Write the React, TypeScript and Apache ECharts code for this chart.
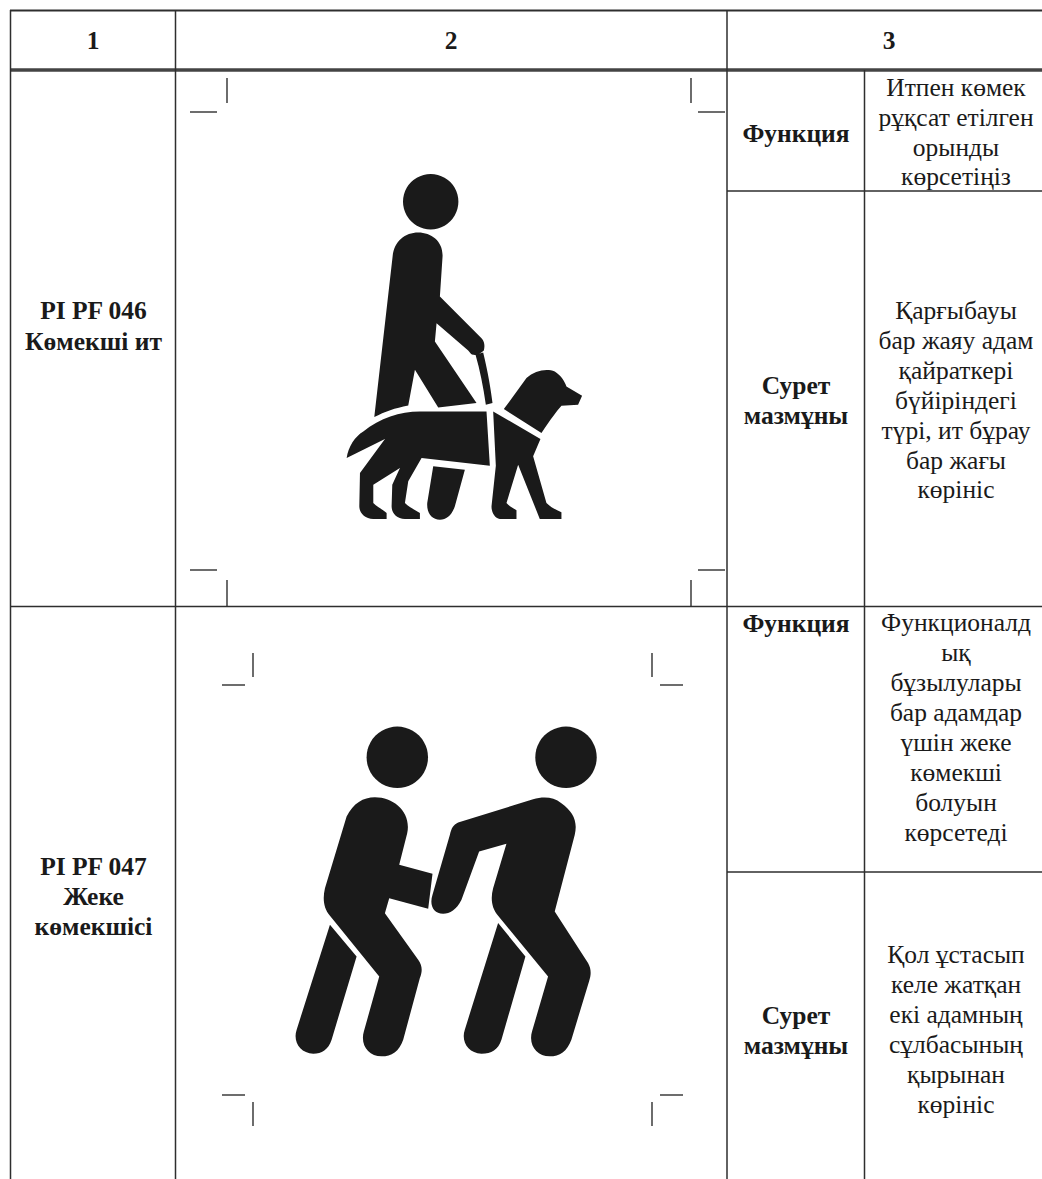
import React, { useEffect, useRef } from "react";
import * as echarts from "echarts";

const headerLabels = ["1", "2", "3"];
const codeLines1 = ["PI PF 046", "Көмекші ит"];
const codeLines2 = ["PI PF 047", "Жеке", "көмекшісі"];
const funcLabel = "Функция";
const imageLabel = ["Сурет", "мазмұны"];
const func1 = ["Итпен көмек", "рұқсат етілген", "орынды", "көрсетіңіз"];
const desc1 = ["Қарғыбауы", "бар жаяу адам", "қайраткері", "бүйіріндегі", "түрі, ит бұрау", "бар жағы", "көрініс"];
const func2 = ["Функционалд", "ық", "бұзылулары", "бар адамдар", "үшін жеке", "көмекші", "болуын", "көрсетеді"];
const desc2 = ["Қол ұстасып", "келе жатқан", "екі адамның", "сұлбасының", "қырынан", "көрініс"];

const dogPath =
  "M133,772 L188,290 C192,245 225,218 265,218 C305,218 340,245 338,290 L330,410 L455,535 C465,545 465,560 462,572 C450,582 440,587 430,585 C425,585 420,578 415,572 L320,490 L315,545 L440,730 L325,743 L255,630 L235,737 C195,745 165,755 133,772 Z " +
  "M437,585 L460,578 C475,640 483,690 488,730 L468,735 C460,680 450,630 437,585 Z " +
  "M50,895 C55,860 75,830 100,815 C150,775 210,755 270,755 L470,755 L480,918 L275,895 L235,965 L225,1030 C240,1045 255,1050 270,1060 L270,1078 L225,1078 C200,1078 185,1060 185,1040 L187,975 L210,925 L130,975 L130,1030 C145,1045 160,1050 170,1060 L170,1078 L130,1078 C105,1078 88,1060 88,1040 L90,940 L165,838 Z " +
  "M310,920 L405,930 L375,1040 C365,1068 350,1080 330,1080 C305,1080 290,1060 292,1030 Z " +
  "M490,755 L632,838 L610,890 L650,1030 C665,1045 680,1050 695,1058 L695,1078 L630,1078 L565,915 L530,1030 C540,1042 550,1045 560,1052 L560,1078 L510,1078 C495,1075 485,1060 485,1040 L498,918 Z " +
  "M522,748 L590,655 C615,632 650,625 675,635 C695,648 705,665 710,680 L757,708 L745,735 L695,738 C680,755 665,775 635,820 Z";

const helperPath =
  "M200,320 C220,280 250,262 285,262 C345,262 395,310 382,370 L358,465 L458,492 L445,597 L328,565 L315,610 L415,750 C428,768 428,785 420,805 L370,990 C358,1025 335,1040 305,1040 C265,1040 240,1005 252,965 L298,800 L150,618 C130,595 128,565 135,535 Z " +
  "M150,645 L230,740 L155,990 C145,1020 125,1032 100,1032 C60,1032 38,995 50,960 Z " +
  "M535,338 L760,268 C790,260 820,260 845,280 C880,305 895,335 885,375 L825,605 L925,760 C935,778 935,795 928,815 L875,990 C862,1025 840,1040 810,1040 C770,1040 745,1005 757,965 L805,800 L655,618 C635,595 632,565 640,535 L680,402 L598,425 L545,570 C530,600 510,612 490,612 C460,612 448,585 458,555 L510,375 C515,355 520,345 535,338 Z " +
  "M655,640 L737,740 L665,990 C655,1020 635,1032 605,1032 C565,1032 543,995 555,960 Z";

echarts.graphic.registerShape("dogIcon", echarts.graphic.extendPath(dogPath, {}));
echarts.graphic.registerShape("helperIcon", echarts.graphic.extendPath(helperPath, {}));

const INK = "#1a1a1a";
const LINE = "#2e2e2e";

function lines(xs: string[], x: number, ys: number[], bold: boolean) {
  return xs.map((t, i) => ({
    type: "text",
    x,
    y: ys[i],
    silent: true,
    style: {
      text: t,
      fill: INK,
      textAlign: "center",
      textVerticalAlign: "middle",
      font: `${bold ? "bold " : ""}25.5px "Liberation Serif"`,
    },
  }));
}

function seg(x1: number, y1: number, x2: number, y2: number, w = 1.5, c = LINE) {
  return {
    type: "line",
    silent: true,
    shape: { x1, y1, x2, y2 },
    style: { stroke: c, lineWidth: w },
  };
}

function crop(
  left: number, right: number,
  hTop: number, hBottom: number,
  vTop: number[], vBottom: number[],
  hl: number, gapL: number, gapR: number,
) {
  const w = 1.4;
  return [
    seg(left - gapL - hl, hTop, left - gapL, hTop, w),
    seg(right + gapR, hTop, right + gapR + hl, hTop, w),
    seg(left - gapL - hl, hBottom, left - gapL, hBottom, w),
    seg(right + gapR, hBottom, right + gapR + hl, hBottom, w),
    seg(left, vTop[0], left, vTop[1], w),
    seg(right, vTop[0], right, vTop[1], w),
    seg(left, vBottom[0], left, vBottom[1], w),
    seg(right, vBottom[0], right, vBottom[1], w),
  ];
}

export default function App() {
  const ref = useRef<HTMLDivElement>(null);
  useEffect(() => {
    document.body.style.margin = "0";
    document.body.style.background = "#ffffff";
    const chart = echarts.init(ref.current!, undefined, { renderer: "svg" });
    const elements: any[] = [
      seg(10, 10.5, 1042, 10.5, 2),
      seg(10, 70, 1042, 70, 3.5, "#444444"),
      seg(10, 606.5, 1042, 606.5, 1.5),
      seg(727, 191, 1042, 191, 1.5),
      seg(727, 872, 1042, 872, 1.5),
      seg(10.5, 10, 10.5, 1179, 1.5),
      seg(175.5, 10, 175.5, 1179, 1.5),
      seg(727, 10, 727, 1179, 1.5),
      seg(864.5, 70, 864.5, 1179, 1.5),
      ...crop(227, 691, 112, 570, [78, 103], [580, 606], 27, 10, 7),
      ...crop(253, 652, 685, 1095, [653, 677], [1102, 1126], 23, 8, 8),
      { type: "circle", silent: true, shape: { cx: 430.7, cy: 201.7, r: 27.7 }, style: { fill: INK } },
      { type: "dogIcon", silent: true, x: 330, y: 160, scaleX: 1 / 3, scaleY: 1 / 3, style: { fill: INK } },
      { type: "circle", silent: true, shape: { cx: 397.3, cy: 757.3, r: 30.7 }, style: { fill: INK } },
      { type: "circle", silent: true, shape: { cx: 566, cy: 757.3, r: 30.7 }, style: { fill: INK } },
      { type: "helperIcon", silent: true, x: 280, y: 710, scaleX: 1 / 3, scaleY: 1 / 3, style: { fill: INK } },
      ...lines([headerLabels[0]], 93, [40], true),
      ...lines([headerLabels[1]], 451, [40], true),
      ...lines([headerLabels[2]], 889, [40], true),
      ...lines(codeLines1, 93.5, [310, 341], true),
      ...lines(codeLines2, 93.5, [866, 896, 926], true),
      ...lines([funcLabel], 796, [133], true),
      ...lines(imageLabel, 796, [385, 415], true),
      ...lines([funcLabel], 796, [623], true),
      ...lines(imageLabel, 796, [1015, 1045], true),
      ...lines(func1, 956, [87, 117, 147, 176], false),
      ...lines(desc1, 956, [310, 340, 370, 400, 430, 460, 489], false),
      ...lines(func2, 956, [622, 652, 682, 712, 742, 772, 802, 832], false),
      ...lines(desc2, 956, [954, 984, 1014, 1044, 1074, 1104], false),
    ];
    chart.setOption({
      animation: false,
      backgroundColor: "#ffffff",
      graphic: { elements },
    });
    return () => chart.dispose();
  }, []);
  return <div ref={ref} style={{ width: 1042, height: 1179, position: "absolute", left: 0, top: 0 }} />;
}
